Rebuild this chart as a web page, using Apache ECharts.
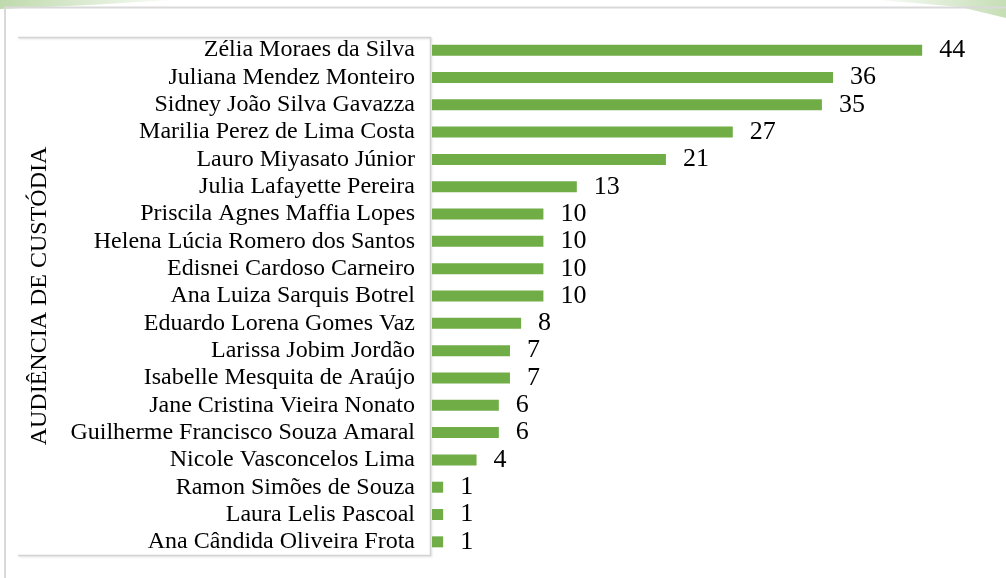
<!DOCTYPE html>
<html>
<head>
<meta charset="utf-8">
<script src="https://cdn.jsdelivr.net/npm/echarts@6/dist/echarts.min.js"></script>
<style>
  html, body { margin: 0; padding: 0; background: #ffffff; }
  #chart { width: 1006px; height: 578px; }
</style>
</head>
<body>
<div id="chart"></div>
<script>
// Names listed top to bottom
const names = [
  'Zélia Moraes da Silva',
  'Juliana Mendez Monteiro',
  'Sidney João Silva Gavazza',
  'Marilia Perez de Lima Costa',
  'Lauro Miyasato Júnior',
  'Julia Lafayette Pereira',
  'Priscila Agnes Maffia Lopes',
  'Helena Lúcia Romero dos Santos',
  'Edisnei Cardoso Carneiro',
  'Ana Luiza Sarquis Botrel',
  'Eduardo Lorena Gomes Vaz',
  'Larissa Jobim Jordão',
  'Isabelle Mesquita de Araújo',
  'Jane Cristina Vieira Nonato',
  'Guilherme Francisco Souza Amaral',
  'Nicole Vasconcelos Lima',
  'Ramon Simões de Souza',
  'Laura Lelis Pascoal',
  'Ana Cândida Oliveira Frota'
];
const counts = [44, 36, 35, 27, 21, 13, 10, 10, 10, 10, 8, 7, 7, 6, 6, 4, 1, 1, 1];
const axisTitle = 'AUDIÊNCIA DE CUSTÓDIA';

const serif = "'Liberation Serif', 'Times New Roman', serif";
const chart = echarts.init(document.getElementById('chart'), null, { renderer: 'canvas' });

chart.setOption({
  backgroundColor: '#ffffff',
  animation: false,
  graphic: [
    // soft green corner swooshes along the top edge
    {
      type: 'polygon', silent: true, z: 0,
      shape: { points: [[0, 0], [170, 0], [90, 5], [0, 9]] },
      style: {
        fill: new echarts.graphic.LinearGradient(0, 0, 1, 0, [
          { offset: 0, color: 'rgba(112,173,71,0.45)' },
          { offset: 1, color: 'rgba(112,173,71,0.05)' }
        ])
      }
    },
    {
      type: 'polygon', silent: true, z: 0,
      shape: { points: [[880, 0], [1006, 0], [1006, 18], [960, 7]] },
      style: {
        fill: new echarts.graphic.LinearGradient(0, 0, 1, 0, [
          { offset: 0, color: 'rgba(112,173,71,0.05)' },
          { offset: 1, color: 'rgba(112,173,71,0.40)' }
        ])
      }
    },
    // outer frame
    {
      type: 'polyline', silent: true, z: 1,
      shape: { points: [[5, 578], [5, 7.5], [1006, 7.5]] },
      style: { stroke: '#d9d9d9', lineWidth: 2, fill: null }
    },
    // frame around the name column
    {
      type: 'polyline', silent: true, z: 1,
      shape: { points: [[18, 37.5], [430.5, 37.5], [430.5, 555.5], [18, 555.5]] },
      style: {
        stroke: '#d4d4d4', lineWidth: 1.5, fill: null,
        shadowColor: 'rgba(0,0,0,0.12)', shadowBlur: 2, shadowOffsetX: 1, shadowOffsetY: 1
      }
    }
  ],
  grid: { left: 432, right: 17, top: 36.5, height: 519, containLabel: false },
  xAxis: {
    type: 'value',
    min: 0,
    max: 50,
    show: false
  },
  yAxis: {
    type: 'category',
    data: names,
    inverse: true,
    name: axisTitle,
    nameLocation: 'middle',
    nameRotate: 90,
    nameGap: 380,
    nameTextStyle: { fontFamily: serif, fontSize: 24, color: '#000000' },
    axisLine: { show: false },
    axisTick: { show: false },
    splitLine: { show: false },
    axisLabel: {
      interval: 0,
      fontFamily: serif,
      fontSize: 24,
      color: '#000000',
      margin: 17
    }
  },
  series: [{
    type: 'bar',
    data: counts,
    barWidth: 11,
    itemStyle: { color: '#70AD47' },
    label: {
      show: true,
      position: 'right',
      distance: 17,
      fontFamily: serif,
      fontSize: 26,
      color: '#000000'
    }
  }]
});
</script>
</body>
</html>
